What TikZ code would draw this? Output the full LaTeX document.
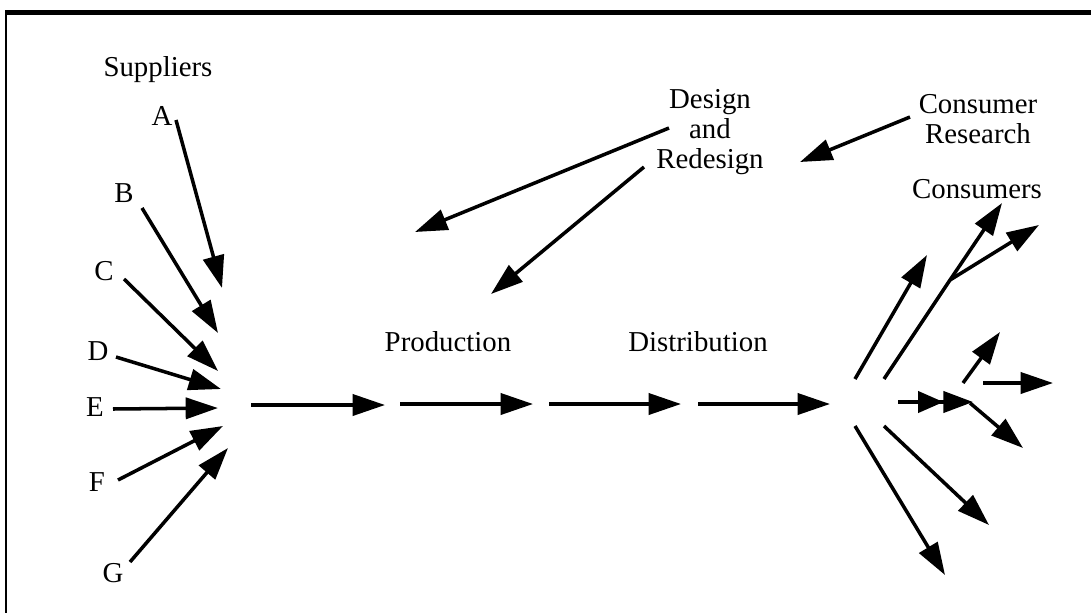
\documentclass[tikz,border=0pt]{standalone}
\usepackage{fontspec}
\setmainfont{Liberation Serif}
\usepackage{tikz}
\usetikzlibrary{arrows.meta}
\newcommand*{\tailleTexte}{\fontsize{20.5}{21.5}\selectfont}
\tikzset{
	fleche/.style={line width=2.5pt,-{Triangle[length=23pt,width=15pt]}},
	flechedouble/.style={line width=2.5pt,-{Triangle[length=18pt,width=15pt]Triangle[length=21pt,width=15pt]}},
	etiquette/.style={inner sep=0pt,font=\tailleTexte,align=center}
}

\begin{document}
\begin{tikzpicture}[x=0.025cm,y=-0.025cm]
	\useasboundingbox (0,0) rectangle (1091,613);
	% cadre
	\draw[line width=3.6pt](5,12.5)--(1091,12.5);
	\draw[line width=1.4pt](6,12.5)--(6,613);

	% fournisseurs
	\node[etiquette](sup) at (158,70){Suppliers};
	\node[etiquette](a) at (162,116){A};
	\node[etiquette](b) at (124,193){B};
	\node[etiquette](c) at (104,271){C};
	\node[etiquette](d) at (98,351){D};
	\node[etiquette](e) at (95,407){E};
	\node[etiquette](f) at (97,482){F};
	\node[etiquette](g) at (113,573){G};
	\coordinate(sA) at (176,120);
	\coordinate(tA) at (222,288);
	\coordinate(sB) at (142,208);
	\coordinate(tB) at (218,333);
	\coordinate(sC) at (124,279);
	\coordinate(tC) at (218,371);
	\coordinate(sD) at (116,357);
	\coordinate(tD) at (221,389);
	\coordinate(sE) at (113,409);
	\coordinate(tE) at (218,408);
	\coordinate(sF) at (118,480);
	\coordinate(tF) at (223,426);
	\coordinate(sG) at (130,562);
	\coordinate(tG) at (228,448);
	\draw[fleche](sA)--(tA);
	\draw[fleche](sB)--(tB);
	\draw[fleche](sC)--(tC);
	\draw[fleche](sD)--(tD);
	\draw[fleche](sE)--(tE);
	\draw[fleche](sF)--(tF);
	\draw[fleche](sG)--(tG);

	% chaine principale
	\node[etiquette](prod) at (448,342){Production};
	\node[etiquette](dist) at (698,342){Distribution};
	\draw[fleche](251,405)--(385,405);
	\draw[fleche](400,404)--(533,404);
	\draw[fleche](549,404)--(681,404);
	\draw[fleche](698,404)--(830,404);

	% conception
	\node[etiquette](design) at (710,132){Design\\and\\Redesign};
	\node[etiquette](research) at (978,119){Consumer\\Research};
	\node[etiquette](cons) at (977,189){Consumers};
	\coordinate(dS1) at (669,128);
	\coordinate(dT1) at (415,232);
	\coordinate(dS2) at (644,167);
	\coordinate(dT2) at (491,294);
	\coordinate(rS) at (910,117);
	\coordinate(rT) at (800,162);
	\draw[fleche](dS1)--(dT1);
	\draw[fleche](dS2)--(dT2);
	\draw[fleche](rS)--(rT);

	% consommateurs
	\coordinate(br) at (950,280);
	\draw[fleche](855,379)--(927,255);
	\draw[fleche](884,379)--(br)--(1002,203);
	\draw[fleche](br)--(1039,225);
	\draw[flechedouble](898,402)--(973,402);
	\draw[fleche](970,403)--(1023,448);
	\draw[fleche](963,383)--(1000,332);
	\draw[fleche](983,383)--(1053,383);
	\draw[fleche](855,426)--(945,575);
	\draw[fleche](884,426)--(989,525);
\end{tikzpicture}
\end{document}
